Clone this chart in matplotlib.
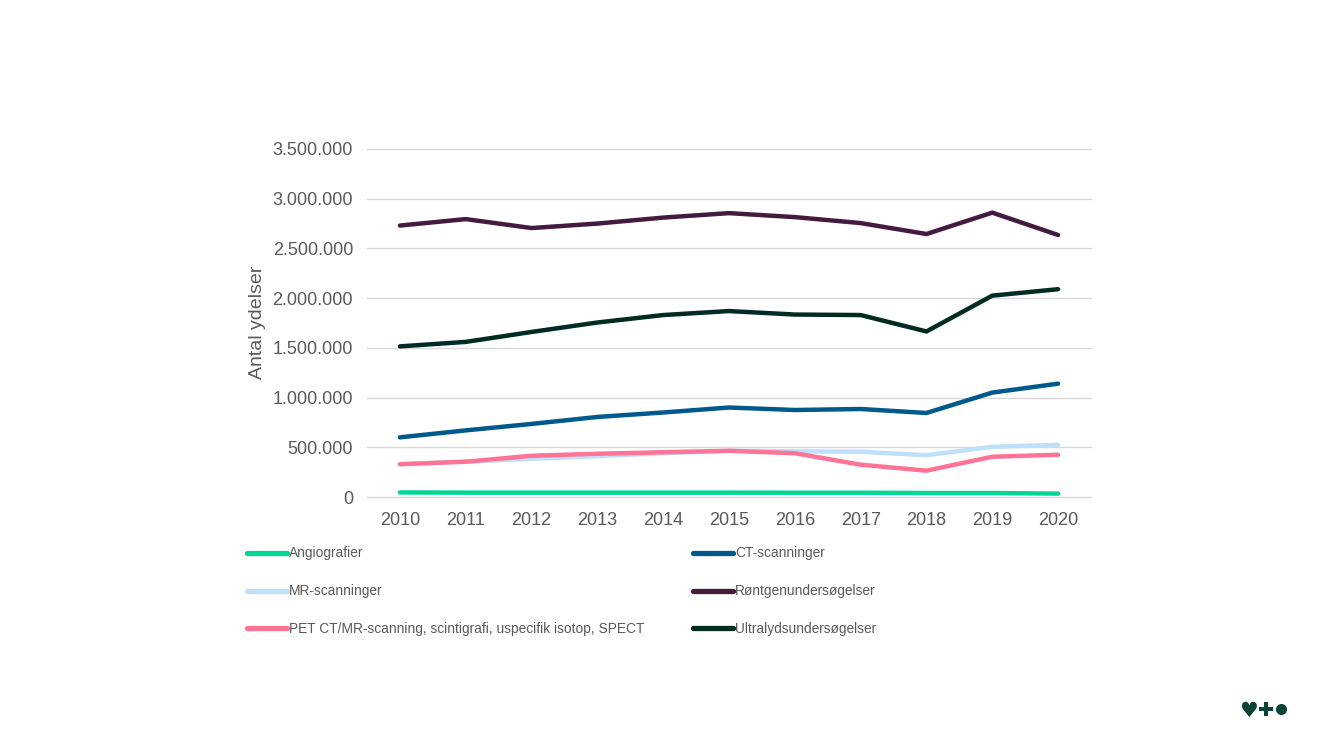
import matplotlib
matplotlib.use('Agg')
import matplotlib.pyplot as plt
from matplotlib.lines import Line2D
from matplotlib.ticker import FuncFormatter

plt.rcParams['font.family'] = ['Liberation Sans', 'DejaVu Sans']

# data set
years = [2010, 2011, 2012, 2013, 2014, 2015, 2016, 2017, 2018, 2019, 2020]
angio = [46000, 44000, 44000, 44000, 44000, 44000, 43000, 43000, 40000, 40000, 34000]
ct = [600000, 670000, 735000, 805000, 850000, 900000, 875000, 885000, 845000, 1050000, 1140000]
mr = [330000, 355000, 385000, 410000, 440000, 465000, 460000, 455000, 420000, 505000, 525000]
rontgen = [2730000, 2795000, 2705000, 2750000, 2810000, 2855000, 2815000, 2755000, 2645000, 2860000, 2635000]
pet = [330000, 355000, 415000, 435000, 450000, 465000, 440000, 325000, 265000, 405000, 425000]
ultra = [1515000, 1560000, 1660000, 1755000, 1830000, 1870000, 1835000, 1830000, 1665000, 2025000, 2090000]

series = [
    ('Angiografier', angio, '#00d695'),
    ('CT-scanninger', ct, '#00598c'),
    ('MR-scanninger', mr, '#bfe0fb'),
    ('Røntgenundersøgelser', rontgen, '#451a3f'),
    ('PET CT/MR-scanning, scintigrafi, uspecifik isotop, SPECT', pet, '#ff7396'),
    ('Ultralydsundersøgelser', ultra, '#002b22'),
]

W, H = 1333, 750
fig = plt.figure(figsize=(W / 100, H / 100), dpi=100)
ax = fig.add_axes([367 / W, 1 - 497 / H, (1091 - 367) / W, (497 - 149) / H])

for name, values, col in series:
    ax.plot(years, values, color=col, lw=3.2, solid_capstyle='round', solid_joinstyle='miter', label=name)

ax.set_xlim(2009.5, 2020.5)
ax.set_ylim(0, 3500000)
ax.set_xticks(years)
ax.set_yticks(range(0, 3500001, 500000))
ax.yaxis.set_major_formatter(FuncFormatter(lambda v, p: f'{int(v):,}'.replace(',', '.')))
ax.grid(axis='y', color='#d9d9d9', lw=1, clip_on=False)
ax.set_axisbelow(True)
for s in ax.spines.values():
    s.set_visible(False)
ax.tick_params(length=0, labelsize=13, labelcolor='#595959')
ax.tick_params(axis='x', pad=11)
ax.tick_params(axis='y', pad=10)

fig.text(257 / W, 1 - 322.5 / H, 'Antal ydelser', rotation=90, ha='center', va='center', fontsize=14, color='#595959')

# legend in two columns
legend_x = [245, 691]
legend_y = [553, 590.5, 628]
for i, (name, values, col) in enumerate(series):
    x = legend_x[i % 2]
    y = legend_y[i // 2]
    fig.add_artist(Line2D([(x + 2) / W, (x + 42) / W], [1 - y / H, 1 - y / H], color=col, lw=3.8,
                          solid_capstyle='round'))
    fig.text((x + 44) / W, 1 - (y + 0.5) / H, name, ha='left', va='center', fontsize=9.9, color='#595959')

# small logo bottom right
logo = '#0b4437'
fig.text(1248.5 / W, 1 - 709 / H, '\u2665', ha='center', va='center_baseline', fontsize=15, color=logo, family='DejaVu Sans')
fig.add_artist(Line2D([1265.5 / W], [1 - 709 / H], marker='P', ms=9.5, color=logo, mew=0))
fig.add_artist(Line2D([1281 / W], [1 - 709 / H], marker='o', ms=8, color=logo, mew=0))

plt.savefig('out.png', dpi=100)
